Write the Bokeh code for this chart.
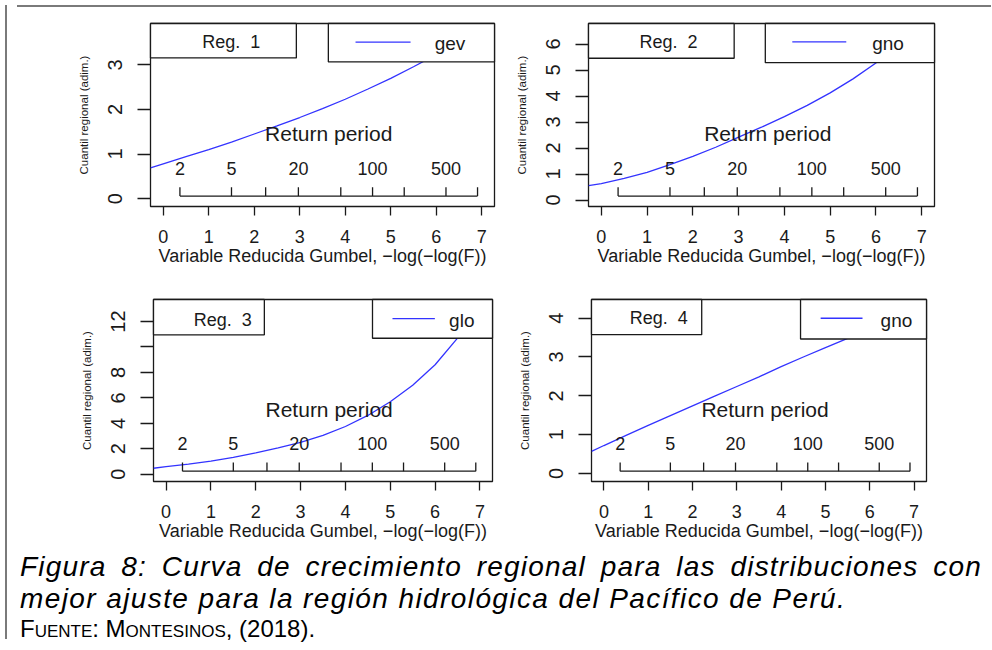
import math
from bokeh.plotting import figure
from bokeh.layouts import row, column
from bokeh.models import Range1d, FixedTicker, Div
from bokeh.embed import file_html
from bokeh.resources import INLINE
from bokeh.core.properties import value

# ---------------- data ----------------
gumbel_x = [-0.28, 0.0, 0.5, 1.0, 1.5, 2.0, 2.5, 3.0, 3.5, 4.0, 4.5, 5.0, 5.5, 6.0, 6.5, 7.0, 7.28]
reg1_gev = [0.69, 0.78, 0.94, 1.10, 1.27, 1.45, 1.63, 1.82, 2.02, 2.23, 2.46, 2.70, 2.96, 3.23, 3.52, 3.82, 4.00]
reg2_gno = [0.55, 0.63, 0.83, 1.06, 1.36, 1.68, 2.03, 2.42, 2.80, 3.21, 3.64, 4.12, 4.66, 5.27, 5.90, 6.60, 7.00]
reg3_glo = [0.47, 0.60, 0.80, 1.03, 1.33, 1.68, 2.07, 2.50, 3.05, 3.75, 4.62, 5.70, 7.00, 8.60, 10.70, 13.20, 14.90]
reg4_gno = [0.57, 0.72, 0.98, 1.24, 1.49, 1.74, 1.99, 2.24, 2.49, 2.75, 3.00, 3.24, 3.48, 3.72, 3.96, 4.20, 4.33]

region_names = ["Reg.\u00a0\u00a01", "Reg.\u00a0\u00a02", "Reg.\u00a0\u00a03", "Reg.\u00a0\u00a04"]
dist_names = ["gev", "gno", "glo", "gno"]

x_ticks = [0, 1, 2, 3, 4, 5, 6, 7]
y_ticks_1 = [0, 1, 2, 3]
y_ticks_2 = [0, 1, 2, 3, 4, 5, 6]
y_ticks_3 = [0, 2, 4, 6, 8, 10, 12]
y_ticks_4 = [0, 1, 2, 3, 4]
y_hidden_3 = {10: ""}

return_periods = [2, 5, 10, 20, 50, 100, 200, 500, 1000]
return_labels = ["2", "5", "", "20", "", "100", "", "500", ""]

x_title = "Variable Reducida Gumbel, \u2212log(\u2212log(F))"
y_title = "Cuantil regional (adim.)"

caption_1 = "Figura 8: Curva de crecimiento regional para las distribuciones con"
caption_2 = "mejor ajuste para la regi\u00f3n hidrol\u00f3gica del Pac\u00edfico de Per\u00fa."
caption_3 = "Fuente: Montesinos, (2018)."

FONT = "Liberation Sans"
INK = "#1a1a1a"
CURVE = "#3333ff"


def reduced_variate(T):
    return -math.log(-math.log(1.0 - 1.0 / T))


def panel(xs, ys, reg, dist, yr, yticks, yover, w, h, bl, br, bt, bb, leg):
    xr = (-0.28, 7.28)
    p = figure(width=w, height=h, x_range=Range1d(*xr), y_range=Range1d(*yr),
               output_backend="svg", toolbar_location=None,
               min_border_left=bl, min_border_right=br, min_border_top=bt, min_border_bottom=bb,
               background_fill_color="white", border_fill_color="white")
    p.xgrid.visible = False
    p.ygrid.visible = False
    p.outline_line_color = INK
    p.outline_line_width = 1.3

    for ax, ticks, tout in ((p.xaxis[0], x_ticks, 9), (p.yaxis[0], yticks, 13)):
        ax.ticker = FixedTicker(ticks=ticks)
        ax.axis_line_color = None
        ax.major_tick_out = tout
        ax.major_tick_in = 0
        ax.minor_tick_line_color = None
        ax.major_tick_line_color = INK
        ax.major_tick_line_width = 1.3
        ax.major_label_text_font = FONT
        ax.major_label_text_color = INK
        ax.axis_label_text_font = FONT
        ax.axis_label_text_font_style = "normal"
        ax.axis_label_text_color = INK
    p.xaxis.major_label_text_font_size = "18px"
    p.xaxis.major_label_standoff = 14
    p.xaxis.axis_label = x_title
    p.xaxis.axis_label_text_font_size = "18px"
    p.xaxis.axis_label_standoff = 0
    p.yaxis.major_label_text_font_size = "20px"
    p.yaxis.major_label_orientation = "vertical"
    p.yaxis.major_label_standoff = 15
    p.yaxis.axis_label = y_title
    p.yaxis.axis_label_text_font_size = "11.5px"
    p.yaxis.axis_label_standoff = 16
    if yover:
        p.yaxis.major_label_overrides = yover

    # curve
    p.line(xs, ys, line_color=CURVE, line_width=1.3)

    # return-period axis inside the plot
    y0, y1 = yr
    hy = y1 - y0
    rp_x = [reduced_variate(T) for T in return_periods]
    y_line = y0 + 0.057 * hy
    y_tick = y0 + 0.105 * hy
    y_lab = y0 + 0.207 * hy
    y_title_rp = y0 + 0.397 * hy
    p.segment(x0=[rp_x[0]], y0=[y_line], x1=[rp_x[-1]], y1=[y_line], line_color=INK, line_width=1.3)
    p.segment(x0=rp_x, y0=[y_line] * len(rp_x), x1=rp_x, y1=[y_tick] * len(rp_x),
              line_color=INK, line_width=1.3)
    p.text(x=rp_x, y=[y_lab] * len(rp_x), text=return_labels, text_align="center",
           text_baseline="middle", text_font=value(FONT), text_font_size="18px", text_color=INK)
    p.text(x=[(rp_x[0] + rp_x[-1]) / 2], y=[y_title_rp], text=["Return period"], text_align="center",
           text_baseline="middle", text_font=value(FONT), text_font_size="21px", text_color=INK)

    # legends (top-left region name, top-right distribution)
    wx = xr[1] - xr[0]
    fx = lambda f: xr[0] + f * wx
    fy = lambda f: y1 - f * hy
    reg_r, reg_b, reg_tx, reg_ty, d_l, d_b, l0, l1, ly, tx = leg
    p.quad(left=[fx(0)], right=[fx(reg_r)], top=[fy(0)], bottom=[fy(reg_b)],
           fill_color="white", line_color=INK, line_width=1.3, level="annotation")
    p.quad(left=[fx(d_l)], right=[fx(1)], top=[fy(0)], bottom=[fy(d_b)],
           fill_color="white", line_color=INK, line_width=1.3, level="annotation")
    p.segment(x0=[fx(l0)], y0=[fy(ly)], x1=[fx(l1)], y1=[fy(ly)], line_color=CURVE,
              line_width=1.3, level="overlay")
    p.text(x=[fx(reg_tx)], y=[fy(reg_ty)], text=[reg], text_align="center", text_baseline="middle",
           text_font=value(FONT), text_font_size="18px", text_color=INK, level="overlay")
    p.text(x=[fx(tx)], y=[fy(ly + 0.01)], text=[dist], text_align="left", text_baseline="middle",
           text_font=value(FONT), text_font_size="19px", text_color=INK, level="overlay")
    return p


p1 = panel(gumbel_x, reg1_gev, region_names[0], dist_names[0], (-0.177, 3.93), y_ticks_1, None,
           492, 266, 138, 10, 11, 69,
           (0.424, 0.188, 0.235, 0.102, 0.517, 0.21, 0.596, 0.756, 0.102, 0.826))
p2 = panel(gumbel_x, reg2_gno, region_names[1], dist_names[1], (-0.25, 6.79), y_ticks_2, None,
           482, 266, 84, 52, 7, 72,
           (0.421, 0.19, 0.231, 0.10, 0.511, 0.214, 0.589, 0.745, 0.10, 0.82))
p3 = panel(gumbel_x, reg3_glo, region_names[2], dist_names[2], (-0.57, 13.73), y_ticks_3, y_hidden_3,
           492, 272, 141, 12, 19, 69,
           (0.327, 0.194, 0.204, 0.11, 0.646, 0.213, 0.705, 0.83, 0.105, 0.872))
p4 = panel(gumbel_x, reg4_gno, region_names[3], dist_names[3], (-0.206, 4.48), y_ticks_4, None,
           482, 272, 87, 60, 21, 69,
           (0.329, 0.193, 0.201, 0.103, 0.624, 0.217, 0.684, 0.809, 0.103, 0.863))

# ---------------- caption (HTML text) ----------------
cap_html = (
    '<div style="font-family: \'Liberation Sans\', Arial, sans-serif; color: #000; '
    'padding-left: 8px; padding-top: 1px;">'
    '<div style="font-style: italic; font-size: 28px; line-height: 32px; letter-spacing: 1.2px; '
    'width: 962px; text-align: justify; text-align-last: justify;">' + caption_1 + '</div>'
    '<div style="font-style: italic; font-size: 28px; line-height: 32px; letter-spacing: 1.4px;">'
    + caption_2 + '</div>'
    '<div style="font-size: 24px; line-height: 27px; font-variant: small-caps;">' + caption_3 + '</div>'
    '</div>'
)
cap = Div(text=cap_html, width=974, height=94, styles={"margin": "0"})

left_bar = Div(width=2, height=634, styles={"background-color": "#7a7a7a"})
top_bar = Div(width=974, height=2, styles={"background-color": "#7a7a7a"})

layout = row(left_bar, column(top_bar, row(p1, p2), row(p3, p4), cap))

open("out.html", "w").write(file_html(layout, INLINE))
